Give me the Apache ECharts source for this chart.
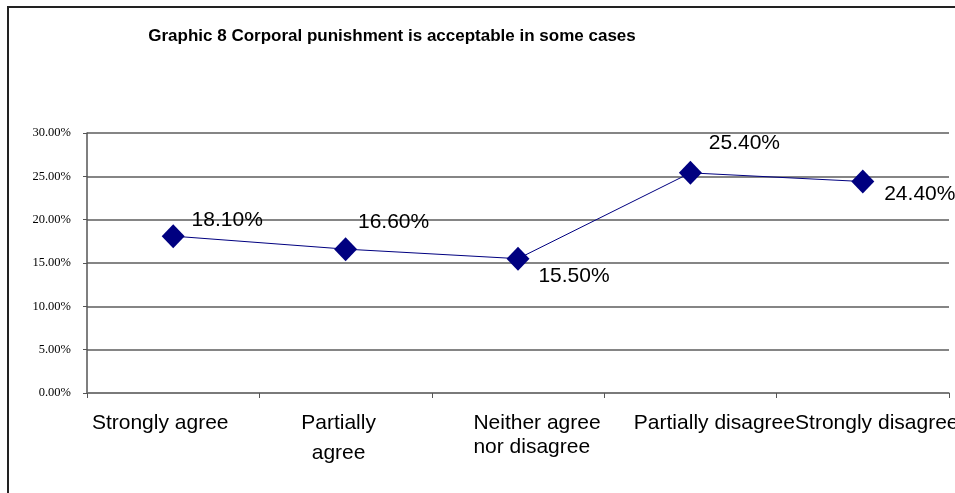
<!DOCTYPE html>
<html>
<head>
<meta charset="utf-8">
<script src="https://cdn.jsdelivr.net/npm/echarts@6/dist/echarts.min.js"></script>
<style>
  html, body { margin: 0; padding: 0; background: #fff; }
  #chart { width: 955px; height: 493px; }
</style>
</head>
<body>
<div id="chart"></div>
<script>
// categories and values
var categories = ['Strongly agree', 'Partially agree', 'Neither agree nor disagree', 'Partially disagree', 'Strongly disagree'];
var values = [18.1, 16.6, 15.5, 25.4, 24.4];
// how each tick label is broken into lines
var tickLines = [['Strongly agree'], ['Partially', 'agree'], ['Neither agree', 'nor disagree'], ['Partially disagree'], ['Strongly disagree']];
// where each value label sits relative to its marker
var labelOffsets = [[54, -16], [48, -27], [56, 18], [54, -30], [57, 13]];

var font = 'Liberation Sans, Arial, sans-serif';

var data = values.map(function (v, i) {
    return { value: v, label: { offset: labelOffsets[i] } };
});

var chart = echarts.init(document.getElementById('chart'));
var option = {
    backgroundColor: '#fff',
    animation: false,
    title: {
        text: 'Graphic 8 Corporal punishment is acceptable in some cases',
        left: 387,
        top: 22,
        textAlign: 'center',
        textStyle: { fontFamily: font, fontSize: 17, fontWeight: 'bold', color: '#000', lineHeight: 18 }
    },
    graphic: [{
        type: 'rect',
        shape: { x: 8, y: 7, width: 1000, height: 600 },
        style: { fill: null, stroke: '#222', lineWidth: 2 },
        silent: true
    }],
    grid: { left: 87, right: 6, top: 133, bottom: 100, outerBoundsMode: 'none' },
    xAxis: {
        type: 'category',
        data: categories,
        boundaryGap: true,
        axisLine: { lineStyle: { color: '#777', width: 1.5 } },
        axisTick: { show: true, inside: false, length: 5, lineStyle: { color: '#555' } },
        axisLabel: {
            interval: 0,
            margin: 18,
            color: '#000',
            fontFamily: font,
            fontSize: 21,
            formatter: function (value, idx) {
                return tickLines[idx].map(function (line, j) {
                    return '{s' + idx + '_' + j + '|' + line + '}';
                }).join('\n');
            },
            rich: {
                s0_0: { fontFamily: font, fontSize: 21, color: '#000', lineHeight: 24, padding: [0, 26, 0, 0] },
                s1_0: { fontFamily: font, fontSize: 21, color: '#000', lineHeight: 24, padding: [0, 14, 0, 0] },
                s1_1: { fontFamily: font, fontSize: 21, color: '#000', lineHeight: 36, padding: [0, 14, 0, 0] },
                s2_0: { fontFamily: font, fontSize: 21, color: '#000', lineHeight: 24, align: 'left', padding: [0, 0, 0, 38] },
                s2_1: { fontFamily: font, fontSize: 21, color: '#000', lineHeight: 24, align: 'left', padding: [0, 0, 0, 38] },
                s3_0: { fontFamily: font, fontSize: 21, color: '#000', lineHeight: 24, padding: [0, 0, 0, 48] },
                s4_0: { fontFamily: font, fontSize: 21, color: '#000', lineHeight: 24, padding: [0, 0, 0, 28] }
            }
        },
        splitLine: { show: false }
    },
    yAxis: {
        type: 'value',
        min: 0,
        max: 30,
        interval: 5,
        axisLine: { show: true, lineStyle: { color: '#555', width: 1.5 } },
        axisTick: { show: true, inside: false, length: 4, lineStyle: { color: '#555' } },
        axisLabel: {
            margin: 16,
            color: '#000',
            fontFamily: 'Liberation Serif, Times New Roman, serif',
            fontSize: 12.5,
            formatter: function (v) { return v.toFixed(2) + '%'; }
        },
        splitLine: { show: true, lineStyle: { color: '#858585', width: 2 } }
    },
    series: [{
        type: 'line',
        data: data,
        symbol: 'diamond',
        symbolSize: [23, 24],
        itemStyle: { color: '#000080' },
        lineStyle: { color: '#000080', width: 1 },
        label: {
            show: true,
            position: 'inside',
            color: '#000',
            fontFamily: font,
            fontSize: 21,
            formatter: function (p) { return p.value.toFixed(2) + '%'; }
        },
        emphasis: { disabled: true }
    }]
};
chart.setOption(option);
</script>
</body>
</html>
